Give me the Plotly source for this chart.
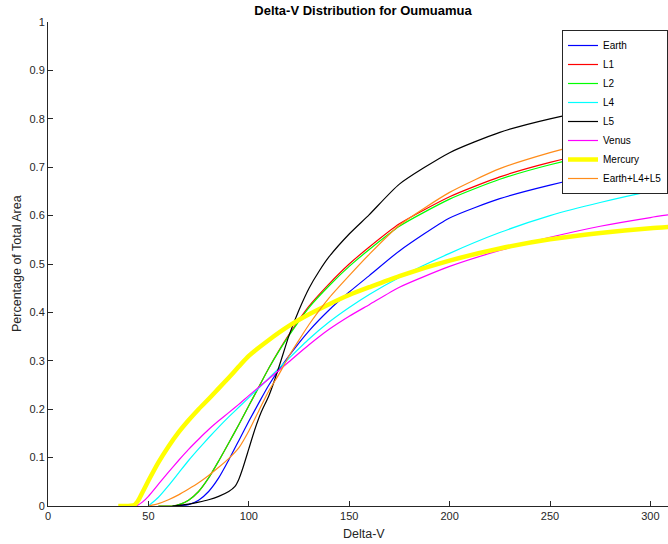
import plotly.graph_objects as go

# ---- data ----
earth_x = [62, 70, 75, 80, 85, 90, 95, 100, 105, 110, 120, 130, 140, 150, 160, 175, 200, 225, 250, 275, 300, 310]
earth_y = [0, 0.003, 0.012, 0.03, 0.058, 0.095, 0.135, 0.175, 0.213, 0.25, 0.31, 0.362, 0.405, 0.442, 0.476, 0.527, 0.595, 0.635, 0.663, 0.686, 0.703, 0.709]

l2_x = [55, 62, 66, 70, 75, 80, 85, 90, 95, 100, 105, 110, 115, 120, 130, 140, 150, 160, 175, 200, 225, 250, 275, 300, 310]
l2_y = [0, 0, 0.004, 0.012, 0.03, 0.058, 0.093, 0.13, 0.168, 0.207, 0.246, 0.285, 0.32, 0.352, 0.41, 0.455, 0.495, 0.53, 0.578, 0.634, 0.675, 0.705, 0.728, 0.746, 0.752]

l1_x = [55, 62, 66, 70, 75, 80, 85, 90, 95, 100, 105, 110, 115, 120, 130, 140, 150, 160, 175, 200, 225, 250, 275, 300, 310]
l1_y = [0, 0, 0.004, 0.012, 0.03, 0.058, 0.093, 0.13, 0.168, 0.207, 0.246, 0.285, 0.321, 0.354, 0.413, 0.459, 0.5, 0.535, 0.583, 0.639, 0.68, 0.71, 0.733, 0.75, 0.756]

l4_x = [50, 55, 60, 65, 70, 75, 80, 85, 90, 95, 100, 110, 120, 130, 140, 150, 160, 175, 200, 225, 250, 275, 300, 310]
l4_y = [0, 0.018, 0.042, 0.068, 0.094, 0.118, 0.141, 0.163, 0.184, 0.204, 0.224, 0.264, 0.305, 0.345, 0.38, 0.41, 0.437, 0.472, 0.522, 0.565, 0.6, 0.627, 0.65, 0.657]

l5_x = [62, 70, 75, 80, 85, 90, 93, 95, 97, 100, 103, 106, 110, 113, 116, 120, 125, 130, 135, 140, 150, 160, 175, 200, 225, 250, 275, 300, 310]
l5_y = [0, 0.004, 0.008, 0.013, 0.02, 0.03, 0.04, 0.055, 0.078, 0.118, 0.158, 0.192, 0.228, 0.262, 0.3, 0.352, 0.405, 0.45, 0.485, 0.515, 0.562, 0.602, 0.665, 0.73, 0.772, 0.8, 0.82, 0.835, 0.84]

venus_x = [44, 47, 50, 55, 60, 65, 70, 75, 80, 85, 90, 95, 100, 110, 120, 130, 140, 150, 160, 175, 200, 225, 250, 275, 300, 310]
venus_y = [0, 0.008, 0.02, 0.045, 0.07, 0.094, 0.117, 0.138, 0.158, 0.176, 0.193, 0.21, 0.228, 0.263, 0.298, 0.333, 0.365, 0.392, 0.416, 0.452, 0.495, 0.528, 0.555, 0.578, 0.596, 0.602]

mercury_x = [35, 40, 43, 45, 47, 50, 55, 60, 65, 70, 75, 80, 85, 90, 95, 100, 110, 120, 130, 140, 150, 160, 175, 200, 225, 250, 275, 300, 310]
mercury_y = [0, 0, 0.002, 0.012, 0.028, 0.052, 0.09, 0.123, 0.152, 0.177, 0.2, 0.221, 0.243, 0.265, 0.288, 0.31, 0.343, 0.372, 0.396, 0.417, 0.436, 0.452, 0.475, 0.507, 0.532, 0.551, 0.564, 0.574, 0.577]

combo_x = [50, 55, 60, 65, 70, 75, 80, 85, 90, 95, 100, 105, 110, 115, 120, 125, 130, 140, 150, 160, 175, 200, 225, 250, 275, 300, 310]
combo_y = [0, 0.005, 0.013, 0.023, 0.035, 0.048, 0.063, 0.08, 0.098, 0.12, 0.155, 0.197, 0.238, 0.272, 0.31, 0.343, 0.375, 0.43, 0.476, 0.52, 0.58, 0.648, 0.697, 0.73, 0.757, 0.778, 0.785]

x_ticks = [0, 50, 100, 150, 200, 250, 300]
y_ticks = [0, 0.1, 0.2, 0.3, 0.4, 0.5, 0.6, 0.7, 0.8, 0.9, 1]

series = [
    ("Earth", earth_x, earth_y, "#0000FF", 1.2),
    ("L1", l1_x, l1_y, "#FF0000", 1.2),
    ("L2", l2_x, l2_y, "#00FF00", 1.2),
    ("L4", l4_x, l4_y, "#00FFFF", 1.2),
    ("L5", l5_x, l5_y, "#000000", 1.2),
    ("Venus", venus_x, venus_y, "#FF00FF", 1.2),
    ("Mercury", mercury_x, mercury_y, "#FFFF00", 4.5),
    ("Earth+L4+L5", combo_x, combo_y, "#FF8C1A", 1.2),
]

fig = go.Figure()
for name, xs, ys, col, w in series:
    fig.add_trace(go.Scatter(x=xs, y=ys, mode="lines", name=name,
                             line=dict(color=col, width=w, shape="spline", smoothing=0.6)))

axcol = "#262626"
font_fam = "Liberation Sans, Arial, sans-serif"

W, H = 668, 544
L, T, B = 48, 22, 38
plot_w = W - L
plot_h = H - T - B

fig.update_layout(
    width=W, height=H,
    margin=dict(l=L, r=0, t=T, b=B, autoexpand=False),
    paper_bgcolor="white", plot_bgcolor="white",
    font=dict(family=font_fam, size=11, color=axcol),
    showlegend=True,
    legend=dict(x=1, xanchor="right", y=(H - B - 30) / plot_h, yanchor="top",
                bgcolor="white", bordercolor=axcol, borderwidth=1,
                font=dict(size=10, color="#000000", family=font_fam),
                itemwidth=30, tracegroupgap=0),
    title=dict(text="<b>Delta-V Distribution for Oumuamua</b>",
               x=363 / W, xref="container", xanchor="center",
               y=1 - 10 / H, yref="container", yanchor="middle",
               font=dict(size=13, color="#000000", family=font_fam)),
    xaxis=dict(range=[0, plot_w / 2.008], tickvals=x_ticks, ticktext=[str(v) for v in x_ticks],
               showline=True, linecolor=axcol, linewidth=1, mirror=False,
               ticks="inside", ticklen=5, tickcolor=axcol, showgrid=False,
               zeroline=False, automargin=False, tickfont=dict(size=11, color=axcol)),
    yaxis=dict(range=[0, 1], tickvals=y_ticks, ticktext=[("%g" % v) for v in y_ticks],
               showline=True, linecolor=axcol, linewidth=1, mirror=False,
               ticks="inside", ticklen=5, tickcolor=axcol, showgrid=False,
               zeroline=False, automargin=False, tickfont=dict(size=11, color=axcol)),
    annotations=[
        dict(text="Delta-V", xref="paper", yref="paper", x=(364 - L) / plot_w,
             y=(H - B - 534) / plot_h, xanchor="center", yanchor="middle",
             showarrow=False, font=dict(size=12.5, color=axcol)),
        dict(text="Percentage of Total Area", xref="paper", yref="paper",
             x=(17 - L) / plot_w, y=0.5, xanchor="center", yanchor="middle",
             textangle=-90, showarrow=False, font=dict(size=12.5, color=axcol)),
    ],
)

fig.write_html("out.html", config={"displayModeBar": False},
               post_script="document.body.style.margin='0px';")
